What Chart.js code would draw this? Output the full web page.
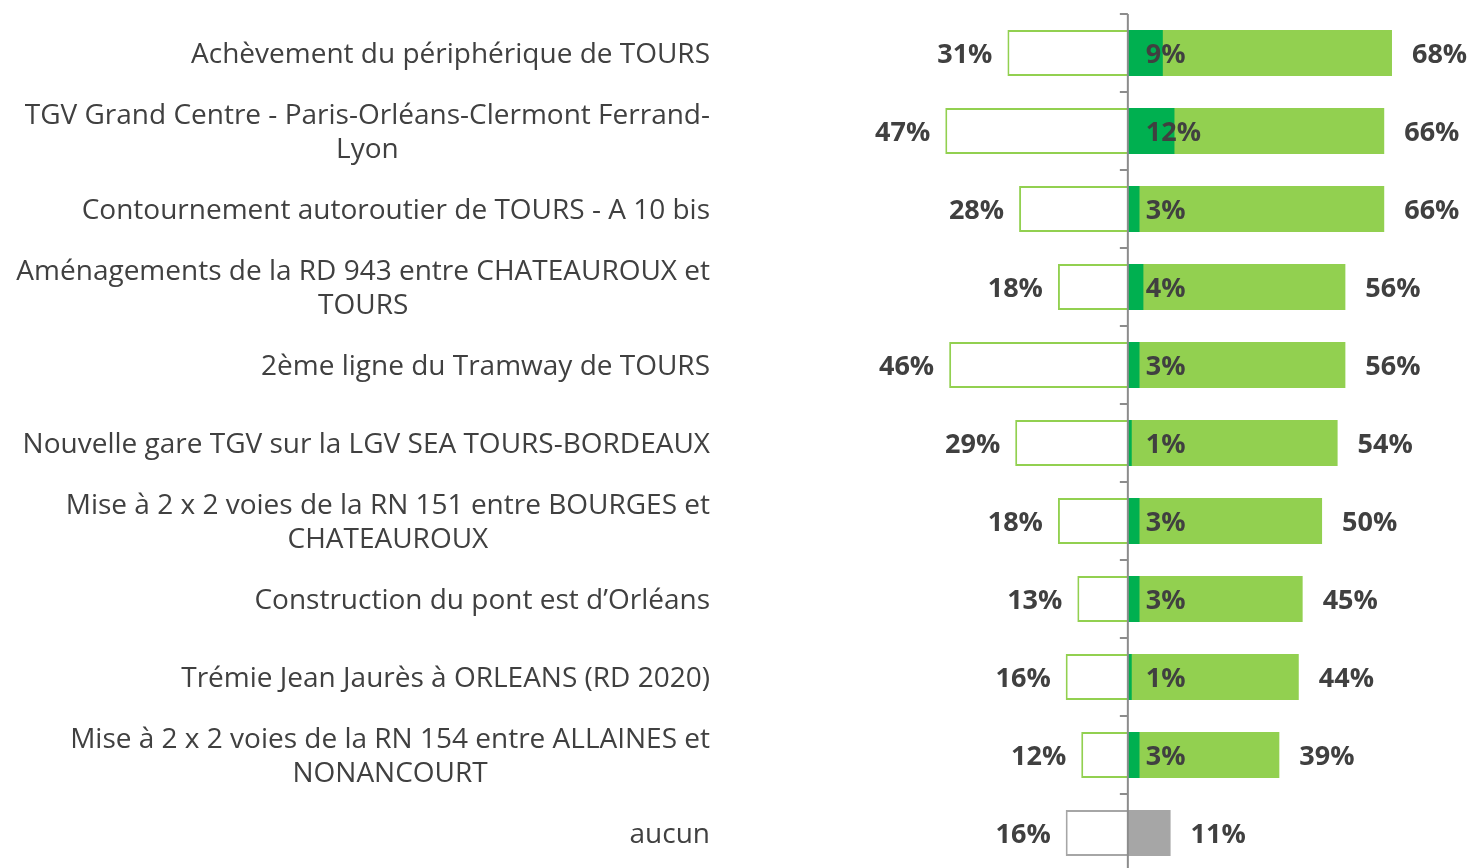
<!DOCTYPE html>
<html>
<head>
<meta charset="utf-8">
<script src="https://cdn.jsdelivr.net/npm/chart.js@4"></script>
<style>
  html, body { margin: 0; padding: 0; background: #fff; overflow: hidden; }
  #wrap { position: relative; width: 1472px; height: 880px; }
</style>
</head>
<body>
<div id="wrap"><canvas id="chart"></canvas></div>
<script>
// category labels (one entry per line)
const projects = [
  ['Achèvement du périphérique de TOURS'],
  ['TGV Grand Centre - Paris-Orléans-Clermont Ferrand-', 'Lyon'],
  ['Contournement autoroutier de TOURS - A 10 bis'],
  ['Aménagements de la RD 943 entre CHATEAUROUX et', 'TOURS'],
  ['2ème ligne du Tramway de TOURS'],
  ['Nouvelle gare TGV sur la LGV SEA TOURS-BORDEAUX'],
  ['Mise à 2 x 2 voies de la RN 151 entre BOURGES et', 'CHATEAUROUX'],
  ['Construction du pont est d’Orléans'],
  ['Trémie Jean Jaurès à ORLEANS (RD 2020)'],
  ['Mise à 2 x 2 voies de la RN 154 entre ALLAINES et', 'NONANCOURT'],
  ['aucun'],
];
// % cited (left, outlined bars)
const leftPct = [31, 47, 28, 18, 46, 29, 18, 13, 16, 12, 16];
// % cited first (dark green)
const firstPct = [9, 12, 3, 4, 3, 1, 3, 3, 1, 3, null];
// % cited in total (light green / grey for "aucun")
const totalPct = [68, 66, 66, 56, 56, 54, 50, 45, 44, 39, 11];

const GREEN_DARK = '#00b050';
const GREEN_LIGHT = '#92d050';
const GREY = '#a6a6a6';
const TEXT = '#404040';
const LABEL_FONT = '"Open Sans", sans-serif';

const lastIdx = projects.length - 1;

const labelsPlugin = {
  id: 'labelsPlugin',
  afterDatasetsDraw(chart) {
    const { ctx, chartArea } = chart;
    const xs = chart.scales.x;
    const ys = chart.scales.y;
    const x0 = xs.getPixelForValue(0);
    const step = (chartArea.bottom - chartArea.top) / projects.length;

    ctx.save();
    // vertical axis + boundary ticks
    ctx.strokeStyle = '#8c8c8c';
    ctx.lineWidth = 2;
    ctx.beginPath();
    ctx.moveTo(x0, chartArea.top);
    ctx.lineTo(x0, chartArea.bottom + 10);
    for (let i = 0; i <= projects.length; i++) {
      const y = Math.round(chartArea.top + i * step);
      ctx.moveTo(x0 - 8, y);
      ctx.lineTo(x0, y);
    }
    ctx.stroke();

    // category labels: block right-aligned, lines centered in the block
    ctx.fillStyle = TEXT;
    ctx.font = '28px ' + LABEL_FONT;
    ctx.textBaseline = 'middle';
    ctx.textAlign = 'center';
    const lineH = 34;
    projects.forEach((lines, i) => {
      const yc = ys.getPixelForValue(i) + 2;
      const w = Math.max(...lines.map((l) => ctx.measureText(l).width));
      const cx = 710 - w / 2;
      lines.forEach((l, k) => {
        ctx.fillText(l, cx, yc + (k - (lines.length - 1) / 2) * lineH);
      });
    });

    // value labels
    ctx.font = 'bold 27px ' + LABEL_FONT;
    projects.forEach((_, i) => {
      const yc = ys.getPixelForValue(i) + 2;
      ctx.textAlign = 'right';
      ctx.fillText(leftPct[i] + '%', xs.getPixelForValue(-leftPct[i]) - 15, yc);
      ctx.textAlign = 'left';
      ctx.fillText(totalPct[i] + '%', xs.getPixelForValue(totalPct[i]) + 20, yc);
      if (firstPct[i] != null) {
        ctx.fillText(firstPct[i] + '%', x0 + 18, yc);
      }
    });
    ctx.restore();
  },
};

new Chart(document.getElementById('chart'), {
  type: 'bar',
  data: {
    labels: projects.map((p) => p.join(' ')),
    datasets: [
      {
        label: 'cité en premier',
        data: firstPct,
        backgroundColor: GREEN_DARK,
        grouped: false,
        order: 1,
      },
      {
        label: 'total',
        data: totalPct,
        backgroundColor: totalPct.map((_, i) => (i === lastIdx ? GREY : GREEN_LIGHT)),
        grouped: false,
        order: 2,
      },
      {
        label: 'gauche',
        data: leftPct.map((v) => -v),
        backgroundColor: '#ffffff',
        borderColor: leftPct.map((_, i) => (i === lastIdx ? GREY : GREEN_LIGHT)),
        borderWidth: 2,
        grouped: false,
        order: 3,
      },
    ],
  },
  options: {
    indexAxis: 'y',
    responsive: true,
    maintainAspectRatio: false,
    animation: false,
    barPercentage: 0.59,
    categoryPercentage: 1,
    layout: { padding: { left: 720, top: 14, right: 0, bottom: 8 } },
    plugins: { legend: { display: false }, tooltip: { enabled: false } },
    scales: {
      x: { type: 'linear', min: -105, max: 88.6, display: false },
      y: { display: false },
    },
  },
  plugins: [labelsPlugin],
});
</script>
</body>
</html>
